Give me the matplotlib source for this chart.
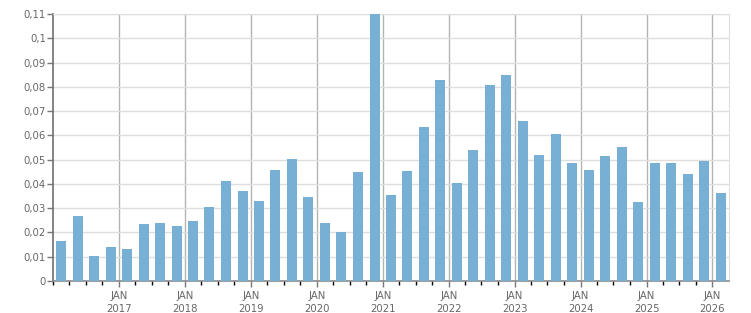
import datetime as dt
import numpy as np
import pandas as pd
import matplotlib
matplotlib.use("Agg")
import matplotlib.pyplot as plt
import matplotlib.dates as mdates
from matplotlib.ticker import FixedLocator, FuncFormatter

# quarterly values, Q1 2016 .. Q1 2026
quarters = pd.period_range("2016Q1", "2026Q1", freq="Q")
values = [0.0165, 0.0268, 0.0102, 0.0139, 0.0131, 0.0235, 0.0239, 0.0226,
          0.0247, 0.0305, 0.0413, 0.0371, 0.0330, 0.0458, 0.0504, 0.0346,
          0.0239, 0.0202, 0.0450, 0.1100, 0.0355, 0.0454, 0.0636, 0.0827,
          0.0404, 0.0541, 0.0806, 0.0847, 0.0661, 0.0520, 0.0607, 0.0487,
          0.0458, 0.0516, 0.0553, 0.0326, 0.0487, 0.0487, 0.0442, 0.0495,
          0.0363]
y_ticks = [0, 0.01, 0.02, 0.03, 0.04, 0.05, 0.06, 0.07, 0.08, 0.09, 0.1, 0.11]
years = list(range(2017, 2027))

bar_color = "#77b0d4"
text_color = "#666666"

# bar centred in the middle of each quarter
starts = quarters.start_time
ends = quarters.end_time
centers = [s + (e - s) / 2 for s, e in zip(starts, ends)]

fig = plt.figure(figsize=(7.51, 3.13), dpi=100)
ax = fig.add_axes([0.0706, 0.1022, 0.8995, 0.8531])

ax.bar(centers, values, width=55, color=bar_color, zorder=3)

ax.set_xlim(dt.datetime(2016, 1, 1), dt.datetime(2026, 3, 31))
ax.set_ylim(0, 0.11)

# y axis
ax.yaxis.set_major_locator(FixedLocator(y_ticks))
ax.yaxis.set_major_formatter(FuncFormatter(lambda v, p: ("%g" % round(v, 2)).replace(".", ",")))
ax.grid(axis="y", color="#dedede", linewidth=1.0, zorder=0)

# x axis: january majors, quarterly minors
jan_dates = [dt.datetime(y, 1, 1) for y in years]
ax.xaxis.set_major_locator(FixedLocator(mdates.date2num(jan_dates)))
ax.xaxis.set_major_formatter(FuncFormatter(lambda v, p: "JAN\n%d" % mdates.num2date(v).year))
ax.xaxis.set_minor_locator(mdates.MonthLocator(bymonth=[1, 4, 7, 10]))
for d in jan_dates:
    ax.axvline(d, color="#b4b4b4", linewidth=1.0, zorder=1)

ax.tick_params(axis="both", colors="#777777", labelcolor=text_color, labelsize=7.3)
ax.tick_params(axis="y", length=4, width=1, pad=1)
ax.tick_params(axis="x", which="major", length=4, width=1, pad=3)
ax.tick_params(axis="x", which="minor", length=3, width=1)
for lbl in ax.get_xticklabels():
    lbl.set_linespacing(1.35)

ax.spines["left"].set_color("#707070")
ax.spines["left"].set_linewidth(1.2)
ax.spines["bottom"].set_color("#8a8a8a")
ax.spines["bottom"].set_linewidth(1.2)
ax.spines["top"].set_color("#dedede")
ax.spines["right"].set_color("#dedede")

fig.savefig("out.png", dpi=100)
